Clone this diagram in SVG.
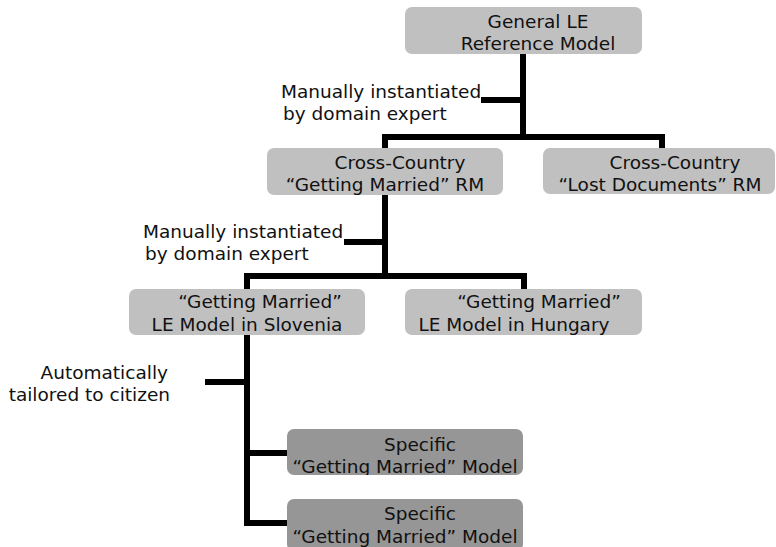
<svg xmlns="http://www.w3.org/2000/svg" width="776" height="547" viewBox="0 0 776 547">
  <style>
    .box { fill: #c0c0c0; }
    .box-dark { fill: #969696; }
    text { font-family: "DejaVu Sans", Verdana, sans-serif; font-size: 18.5px; fill: #111; }
    .mid { text-anchor: middle; }
    .end { text-anchor: end; }
    .wire { stroke: #000; stroke-width: 6; fill: none; stroke-linecap: square; stroke-linejoin: miter; }
  </style>
  <defs>
    <clipPath id="c-general"><rect x="405" y="7" width="237" height="47" rx="7"/></clipPath>
    <clipPath id="c-ccgm"><rect x="267" y="148" width="236" height="47" rx="7"/></clipPath>
    <clipPath id="c-cclost"><rect x="543" y="148" width="232" height="46" rx="7"/></clipPath>
    <clipPath id="c-slo"><rect x="129" y="289" width="236" height="46" rx="7"/></clipPath>
    <clipPath id="c-hun"><rect x="405" y="289" width="237" height="46" rx="7"/></clipPath>
    <clipPath id="c-spec1"><rect x="287" y="429" width="236" height="46" rx="7"/></clipPath>
    <clipPath id="c-spec2"><rect x="287" y="499" width="236" height="48" rx="7"/></clipPath>
  </defs>
  <rect width="776" height="547" fill="#fff"/>

  <!-- connectors -->
  <g id="connectors">
    <path class="wire" d="M523,54 V137 M385,137 H662 V148 M385,137 V148 M484,100 H523"/>
    <path class="wire" d="M385,195 V276 M247,276 H524 V289 M247,276 V289 M347,242 H385"/>
    <path class="wire" d="M247,335 V523 H287 M247,453 H287 M208,382 H247"/>
  </g>

  <!-- connector labels -->
  <g id="labels">
    <text x="281" y="98">Manually instantiated</text>
    <text x="283" y="120">by domain expert</text>
    <text x="143" y="238">Manually instantiated</text>
    <text x="145" y="260">by domain expert</text>
    <text class="end" x="168" y="379">Automatically</text>
    <text class="end" x="170" y="401">tailored to citizen</text>
  </g>

  <g id="general-le-rm">
    <rect class="box" x="405" y="7" width="237" height="47" rx="7"/>
    <g clip-path="url(#c-general)">
      <text class="mid" x="538" y="28">General LE</text>
      <text class="mid" x="538" y="50">Reference Model</text>
    </g>
  </g>

  <g id="cc-getting-married-rm">
    <rect class="box" x="267" y="148" width="236" height="47" rx="7"/>
    <g clip-path="url(#c-ccgm)">
      <text class="mid" x="400" y="169">Cross-Country</text>
      <text class="mid" x="385" y="191">“Getting Married” RM</text>
    </g>
  </g>

  <g id="cc-lost-documents-rm">
    <rect class="box" x="543" y="148" width="232" height="46" rx="7"/>
    <g clip-path="url(#c-cclost)">
      <text class="mid" x="675" y="169">Cross-Country</text>
      <text class="mid" x="660" y="191">“Lost Documents” RM</text>
    </g>
  </g>

  <g id="gm-slovenia">
    <rect class="box" x="129" y="289" width="236" height="46" rx="7"/>
    <g clip-path="url(#c-slo)">
      <text class="mid" x="260" y="308">“Getting Married”</text>
      <text class="mid" x="247" y="331">LE Model in Slovenia</text>
    </g>
  </g>

  <g id="gm-hungary">
    <rect class="box" x="405" y="289" width="237" height="46" rx="7"/>
    <g clip-path="url(#c-hun)">
      <text class="mid" x="539" y="308">“Getting Married”</text>
      <text class="mid" x="514" y="331">LE Model in Hungary</text>
    </g>
  </g>

  <g id="specific-1">
    <rect class="box-dark" x="287" y="429" width="236" height="46" rx="7"/>
    <g clip-path="url(#c-spec1)">
      <text class="mid" x="420" y="451">Specific</text>
      <text class="mid" x="405" y="473">“Getting Married” Model</text>
    </g>
  </g>

  <g id="specific-2">
    <rect class="box-dark" x="287" y="499" width="236" height="52" rx="7"/>
    <g clip-path="url(#c-spec2)">
      <text class="mid" x="420" y="520">Specific</text>
      <text class="mid" x="405" y="543">“Getting Married” Model</text>
    </g>
  </g>
</svg>
